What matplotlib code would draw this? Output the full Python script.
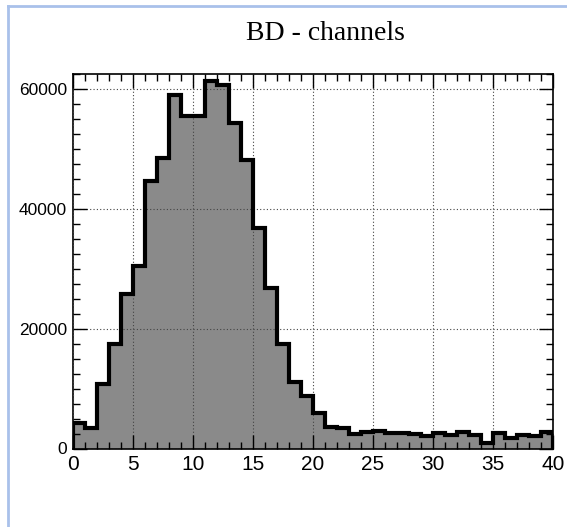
import numpy as np
import matplotlib
matplotlib.use("Agg")
import matplotlib.pyplot as plt
from matplotlib.lines import Line2D
from matplotlib.ticker import MultipleLocator

# bin counts, 40 bins of width 1 from 0 to 40
bin_edges = np.arange(0, 41, 1)
counts = [4200, 3370, 10720, 17450, 25750, 30480, 44720, 48460, 59030, 55530,
          55530, 61250, 60700, 54400, 48180, 36770, 26850, 17450, 11150, 8820,
          5880, 3640, 3370, 2370, 2700, 2980, 2590, 2530, 2370, 2090,
          2530, 2200, 2700, 2200, 870, 2530, 1810, 2200, 2090, 2810]
x_ticks = [0, 5, 10, 15, 20, 25, 30, 35, 40]
y_ticks = [0, 20000, 40000, 60000]
title = "BD - channels"

fig = plt.figure(figsize=(5.67, 5.27), dpi=100)
ax = fig.add_axes([73 / 567, 1 - 448.5 / 527, 480 / 567, (448.5 - 74) / 527])

ax.stairs(counts, bin_edges, fill=True, color="#8a8a8a", zorder=1)
ax.stairs(counts, bin_edges, color="black", linewidth=3, zorder=3)

ax.set_xlim(0, 40)
ax.set_ylim(0, 62500)
ax.set_xticks(x_ticks)
ax.set_yticks(y_ticks)
ax.xaxis.set_minor_locator(MultipleLocator(1))
ax.yaxis.set_minor_locator(MultipleLocator(2500))

ax.set_axisbelow(False)
ax.grid(True, which="major", linestyle=(0, (1, 2)), color="#444444", linewidth=0.8, zorder=2)

ax.tick_params(which="both", direction="in", top=True, right=True, width=1)
ax.tick_params(which="major", length=10)
ax.tick_params(which="minor", length=5)
ax.tick_params(axis="x", labelsize=15, pad=5)
ax.tick_params(axis="y", labelsize=12.5, pad=4.5)
for lab in ax.get_xticklabels() + ax.get_yticklabels():
    lab.set_fontfamily("Liberation Sans")
for s in ax.spines.values():
    s.set_linewidth(1.2)

fig.text(325 / 567, 1 - 40 / 527, title, ha="center", va="baseline",
         fontsize=20, family="Liberation Serif")

# screenshot frame on the left and top
fig.add_artist(Line2D([8 / 567, 8 / 567], [0, 1 - 6 / 527], color="#a9c1ea", linewidth=2))
fig.add_artist(Line2D([8 / 567, 1], [1 - 6 / 527, 1 - 6 / 527], color="#a9c1ea", linewidth=2))

fig.savefig("out.png", dpi=100)
